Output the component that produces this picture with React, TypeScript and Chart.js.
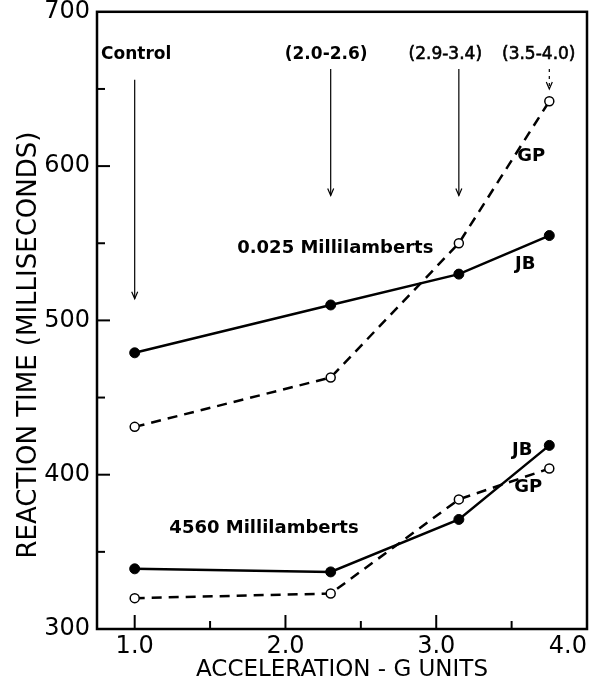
import React, { useEffect, useRef } from 'react';
import { Chart, registerables } from 'chart.js';

Chart.register(...registerables);

// ---- data ----
const accelG = [1.0, 2.3, 3.15, 3.75];
const jbDim = [479, 510, 530, 555]; // 0.025 millilamberts, JB
const gpDim = [431, 463, 550, 642]; // 0.025 millilamberts, GP
const jbBright = [339, 337, 371, 419]; // 4560 millilamberts, JB
const gpBright = [320, 323, 384, 404]; // 4560 millilamberts, GP

const xTickValues = [0.75, 1.0, 1.5, 2.0, 2.5, 3.0, 3.5, 4.0];
const yTickValues = [300, 350, 400, 450, 500, 550, 600, 650, 700];

const yTitle = 'REACTION TIME (MILLISECONDS)';
const yTitleCenter = 484; // data value at which the title is centred

const rangeLabels = ['Control', '(2.0-2.6)', '(2.9-3.4)', '(3.5-4.0)'];
const rangeLabelBold = [true, true, false, false];
const rangeLabelX = [1.01, 2.27, 3.06, 3.68];
const rangeLabelY = 672;
const arrowTop = [656, 663, 663, 663];
const arrowBottom = [514, 581, 581, 650];

const seriesTexts = ['0.025 Millilamberts', '4560 Millilamberts', 'JB', 'GP', 'JB', 'GP'];
const seriesTextX = [1.68, 1.23, 3.59, 3.63, 3.57, 3.61];
const seriesTextY = [547, 365.4, 536.6, 606.3, 415.8, 391.9];
const seriesTextAlign = ['left', 'left', 'center', 'center', 'center', 'center'];

const pts = (ys: number[]) => accelG.map((x, i) => ({ x, y: ys[i] }));

const decorPlugin = {
  id: 'decor',
  afterDraw(chart: any) {
    const { ctx, chartArea, scales } = chart;
    const xs = scales.x;
    const ys = scales.y;
    ctx.save();
    ctx.strokeStyle = '#000';
    ctx.fillStyle = '#000';
    // frame
    ctx.lineWidth = 2.5;
    ctx.strokeRect(chartArea.left, chartArea.top, chartArea.right - chartArea.left, chartArea.bottom - chartArea.top);
    // inner tick marks
    ctx.lineWidth = 2;
    yTickValues.forEach((v) => {
      if (v === 300 || v === 700) return;
      const py = ys.getPixelForValue(v);
      const len = v % 100 === 0 ? 13 : 8;
      ctx.beginPath();
      ctx.moveTo(chartArea.left, py);
      ctx.lineTo(chartArea.left + len, py);
      ctx.stroke();
    });
    xTickValues.forEach((v) => {
      if (v <= 0.75 || v >= 4.0) return;
      const px = xs.getPixelForValue(v);
      const len = Number.isInteger(v) ? 14 : 8;
      ctx.beginPath();
      ctx.moveTo(px, chartArea.bottom);
      ctx.lineTo(px, chartArea.bottom - len);
      ctx.stroke();
    });
    // y axis title
    ctx.save();
    ctx.font = '26px "DejaVu Sans"';
    ctx.textAlign = 'center';
    ctx.textBaseline = 'middle';
    ctx.translate(29, ys.getPixelForValue(yTitleCenter));
    ctx.rotate(-Math.PI / 2);
    ctx.fillText(yTitle, 0, 0);
    ctx.restore();
    // range labels and arrows
    ctx.textBaseline = 'middle';
    ctx.textAlign = 'center';
    rangeLabels.forEach((t, i) => {
      ctx.font = (rangeLabelBold[i] ? 'bold ' : '') + '17px "DejaVu Sans"';
      const lx = xs.getPixelForValue(rangeLabelX[i]);
      const ly = ys.getPixelForValue(rangeLabelY);
      ctx.fillText(t, lx, ly);
      if (!rangeLabelBold[i]) {
        ctx.lineWidth = 0.6;
        ctx.strokeText(t, lx, ly);
      }
      const ax = xs.getPixelForValue(accelG[i]);
      const y0 = ys.getPixelForValue(arrowTop[i]);
      const y1 = ys.getPixelForValue(arrowBottom[i]);
      ctx.lineWidth = 1.2;
      if (i === 3) ctx.setLineDash([3, 4]);
      else ctx.setLineDash([]);
      ctx.beginPath();
      ctx.moveTo(ax, y0);
      ctx.lineTo(ax, y1);
      ctx.stroke();
      ctx.setLineDash([]);
      ctx.beginPath();
      ctx.moveTo(ax - 3, y1 - 7);
      ctx.lineTo(ax, y1);
      ctx.lineTo(ax + 3, y1 - 7);
      ctx.stroke();
    });
    // series labels
    ctx.font = 'bold 18px "DejaVu Sans"';
    seriesTexts.forEach((t, i) => {
      ctx.textAlign = seriesTextAlign[i] as CanvasTextAlign;
      ctx.fillText(t, xs.getPixelForValue(seriesTextX[i]), ys.getPixelForValue(seriesTextY[i]));
    });
    ctx.restore();
  },
};

export default function App() {
  const ref = useRef<HTMLCanvasElement | null>(null);
  useEffect(() => {
    document.body.style.margin = '0';
    if (!ref.current) return;
    Chart.defaults.font.family = '"DejaVu Sans"';
    Chart.defaults.color = '#000';
    const solid = (label: string, ys: number[]) => ({
      label,
      data: pts(ys),
      borderColor: '#000',
      borderWidth: 2.5,
      pointRadius: 5,
      pointBackgroundColor: '#000',
      pointBorderColor: '#000',
      pointBorderWidth: 1,
      tension: 0,
    });
    const dashed = (label: string, ys: number[]) => ({
      label,
      data: pts(ys),
      borderColor: '#000',
      borderWidth: 2.5,
      borderDash: [10, 7],
      pointRadius: 4.5,
      pointBackgroundColor: '#fff',
      pointBorderColor: '#000',
      pointBorderWidth: 1.5,
      tension: 0,
    });
    const chart = new Chart(ref.current, {
      type: 'line',
      data: {
        datasets: [
          solid('JB 0.025', jbDim),
          dashed('GP 0.025', gpDim),
          solid('JB 4560', jbBright),
          dashed('GP 4560', gpBright),
        ],
      },
      options: {
        responsive: false,
        animation: false,
        devicePixelRatio: 1,
        layout: { padding: { top: 0, right: 5, left: 0, bottom: 0 } },
        plugins: { legend: { display: false }, tooltip: { enabled: false } },
        scales: {
          x: {
            type: 'linear',
            min: 0.75,
            max: 4.0,
            border: { display: false },
            grid: { display: false, drawTicks: false },
            afterBuildTicks: (s: any) => {
              s.ticks = xTickValues.map((value) => ({ value }));
            },
            afterFit: (s: any) => {
              s.height = 55;
            },
            ticks: {
              autoSkip: false,
              maxRotation: 0,
              align: 'inner',
              padding: 3,
              font: { size: 24, family: '"DejaVu Sans"' },
              callback: (v: any) => (Number.isInteger(Number(v)) ? Number(v).toFixed(1) : ''),
            },
            title: {
              display: true,
              text: 'ACCELERATION - G UNITS',
              font: { size: 23, family: '"DejaVu Sans"' },
              padding: { top: 0, bottom: 0 },
            },
          },
          y: {
            type: 'linear',
            min: 300,
            max: 700,
            border: { display: false },
            grid: { display: false, drawTicks: false },
            afterBuildTicks: (s: any) => {
              s.ticks = yTickValues.map((value) => ({ value }));
            },
            afterFit: (s: any) => {
              s.width = 97;
            },
            ticks: {
              autoSkip: false,
              padding: 7,
              font: { size: 24, family: '"DejaVu Sans"', lineHeight: 0.4 },
              callback: (v: any) => (Number(v) % 100 === 0 ? String(v) : ''),
            },
            title: { display: false },
          },
        },
      },
      plugins: [decorPlugin],
    });
    return () => chart.destroy();
  }, []);
  return (
    <div style={{ width: 593, height: 684, background: '#fff' }}>
      <canvas ref={ref} width={593} height={684} style={{ display: 'block' }} />
    </div>
  );
}
